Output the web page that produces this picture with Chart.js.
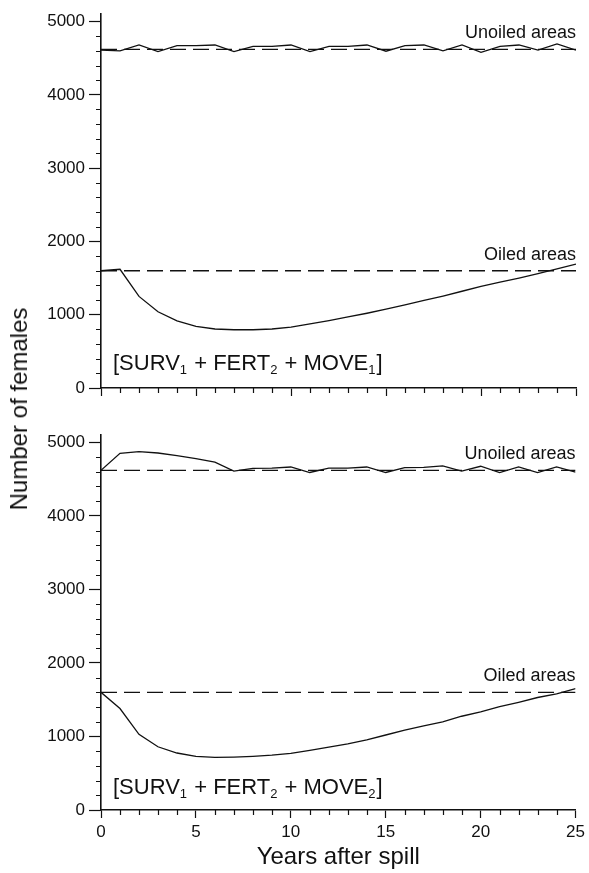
<!DOCTYPE html>
<html>
<head>
<meta charset="utf-8">
<script src="https://cdn.jsdelivr.net/npm/chart.js@4.4.1/dist/chart.umd.min.js"></script>
<style>
  html, body { margin: 0; padding: 0; background: #fff; }
  #wrap { position: relative; width: 589px; height: 873px; }
  #topPanel { position: absolute; left: 0; top: 0; }
  #bottomPanel { position: absolute; left: 0; top: 420px; }
  #yTitle {
    position: absolute; left: 19px; top: 409px;
    transform: translate(-50%, -50%) rotate(-90deg);
    font: 24px "Liberation Sans", Arial, sans-serif; color: #111; white-space: nowrap;
  }
</style>
</head>
<body>
<div id="wrap">
  <canvas id="topPanel" width="589" height="420" style="width:589px;height:420px"></canvas>
  <canvas id="bottomPanel" width="589" height="453" style="width:589px;height:453px"></canvas>
  <div id="yTitle">Number of females</div>
</div>
<script>
// Years after the spill (x values)
const years = [0, 1, 2, 3, 4, 5, 6, 7, 8, 9, 10, 11, 12, 13, 14, 15, 16, 17, 18, 19, 20, 21, 22, 23, 24, 25];
const xTickValues = [0, 5, 10, 15, 20, 25];
const yTickValues = [0, 1000, 2000, 3000, 4000, 5000];

// Upper panel: SURV1 + FERT2 + MOVE1
const unoiledMove1 = [4610, 4600, 4680, 4590, 4670, 4670, 4680, 4590, 4660, 4660, 4680, 4590, 4660,
                      4660, 4680, 4595, 4670, 4680, 4600, 4680, 4580, 4660, 4680, 4610, 4695, 4610];
const oiledMove1 = [1600, 1620, 1250, 1040, 915, 840, 805, 795, 795, 805, 830, 875, 920,
                    970, 1020, 1075, 1135, 1195, 1255, 1320, 1385, 1445, 1500, 1560, 1625, 1690];

// Lower panel: SURV1 + FERT2 + MOVE2
const unoiledMove2 = [4620, 4850, 4875, 4855, 4820, 4780, 4730, 4610, 4645, 4650, 4665, 4590, 4650,
                      4650, 4665, 4590, 4655, 4660, 4680, 4610, 4675, 4590, 4665, 4590, 4665, 4595];
const oiledMove2 = [1600, 1380, 1030, 860, 775, 730, 715, 720, 730, 745, 770, 810, 855,
                    900, 955, 1020, 1085, 1145, 1200, 1275, 1335, 1405, 1465, 1530, 1580, 1650];

// Pre-spill equilibrium levels (dashed reference lines)
const unoiledEquilibrium = 4620;
const oiledEquilibrium = 1600;

const FONT = '"Liberation Sans", Arial, sans-serif';
const INK = '#111';

function toPoints(values) {
  return years.map((yr, i) => ({ x: yr, y: values[i] }));
}

function flatLine(level) {
  return [{ x: years[0], y: level }, { x: years[years.length - 1], y: level }];
}

// Minor ticks and in-panel text
const panelDecor = {
  id: 'panelDecor',
  afterDraw(chart, args, opts) {
    const { ctx, chartArea } = chart;
    const xs = chart.scales.x, ys = chart.scales.y;
    ctx.save();
    ctx.strokeStyle = INK;
    ctx.lineWidth = 1.2;
    ctx.beginPath();
    for (let v = 0; v <= 5000; v += 200) {
      if (yTickValues.includes(v)) continue;
      const py = Math.round(ys.getPixelForValue(v)) + 0.5;
      ctx.moveTo(chartArea.left - 5, py);
      ctx.lineTo(chartArea.left, py);
    }
    years.forEach(yr => {
      if (xTickValues.includes(yr)) return;
      const px = Math.round(xs.getPixelForValue(yr)) + 0.5;
      ctx.moveTo(px, chartArea.bottom);
      ctx.lineTo(px, chartArea.bottom + 5);
    });
    ctx.stroke();

    // area labels, right aligned at the end of the x range
    ctx.fillStyle = INK;
    ctx.font = '18px ' + FONT;
    ctx.textAlign = 'right';
    ctx.textBaseline = 'alphabetic';
    const xr = xs.getPixelForValue(25);
    ctx.fillText('Unoiled areas', xr, ys.getPixelForValue(unoiledEquilibrium) - 11);
    ctx.fillText('Oiled areas', xr, ys.getPixelForValue(oiledEquilibrium) - 11);

    // scenario label with subscripts
    const parts = [['[SURV', false], ['1', true], [' + FERT', false], ['2', true],
                   [' + MOVE', false], [opts.moveSub, true], [']', false]];
    let x = chartArea.left + 12;
    const base = chartArea.bottom - opts.labelLift;
    ctx.textAlign = 'left';
    parts.forEach(([txt, sub]) => {
      ctx.font = (sub ? '13px ' : '22px ') + FONT;
      ctx.fillText(txt, x, sub ? base + 4 : base);
      x += ctx.measureText(txt).width + (sub ? 1 : 0);
    });
    ctx.restore();
  }
};

function makePanel(canvasId, unoiled, oiled, moveSub, isBottom) {
  return new Chart(document.getElementById(canvasId), {
    type: 'line',
    data: {
      datasets: [
        { data: toPoints(unoiled), borderColor: INK, borderWidth: 1.3, pointRadius: 0, tension: 0 },
        { data: toPoints(oiled), borderColor: INK, borderWidth: 1.3, pointRadius: 0, tension: 0 },
        { data: flatLine(unoiledEquilibrium), borderColor: INK, borderWidth: 1.3, borderDash: [16, 7], pointRadius: 0 },
        { data: flatLine(oiledEquilibrium), borderColor: INK, borderWidth: 1.3, borderDash: [16, 7], pointRadius: 0 }
      ]
    },
    options: {
      responsive: false,
      animation: false,
      events: [],
      layout: { padding: { left: 0, right: 13, top: isBottom ? 15 : 13, bottom: 0 } },
      plugins: {
        legend: { display: false },
        tooltip: { enabled: false },
        panelDecor: { moveSub: moveSub, labelLift: isBottom ? 16 : 18 }
      },
      scales: {
        x: {
          type: 'linear', min: 0, max: 25,
          afterFit: s => { s.height = isBottom ? 63 : 32; },
          afterBuildTicks: s => { s.ticks = xTickValues.map(v => ({ value: v })); },
          ticks: {
            display: isBottom,
            color: INK,
            padding: 4,
            font: { family: FONT, size: 17 },
            callback: v => String(v)
          },
          grid: { drawOnChartArea: false, tickLength: 8, tickColor: INK, tickWidth: 1.2 },
          border: { display: true, color: INK, width: 1.6 },
          title: {
            display: isBottom,
            text: 'Years after spill',
            color: INK,
            font: { family: FONT, size: 24 },
            padding: { top: 4, bottom: 1 }
          }
        },
        y: {
          min: 0, max: 5100,
          afterFit: s => { s.width = 101; },
          afterBuildTicks: s => { s.ticks = yTickValues.map(v => ({ value: v })); },
          ticks: {
            color: INK,
            padding: 4,
            font: { family: FONT, size: 17 },
            callback: v => String(v)
          },
          grid: { drawOnChartArea: false, tickLength: 12, tickColor: INK, tickWidth: 1.2 },
          border: { display: true, color: INK, width: 1.6 }
        }
      }
    },
    plugins: [panelDecor]
  });
}

makePanel('topPanel', unoiledMove1, oiledMove1, '1', false);
makePanel('bottomPanel', unoiledMove2, oiledMove2, '2', true);
</script>
</body>
</html>
